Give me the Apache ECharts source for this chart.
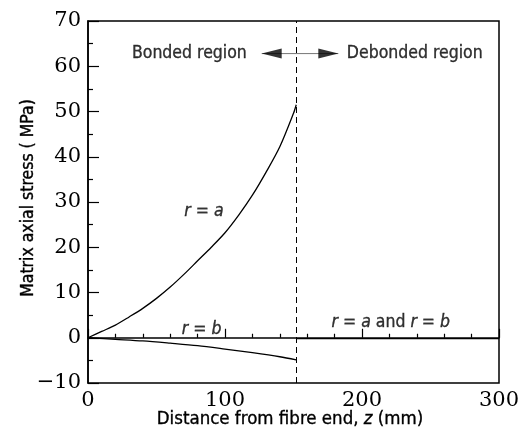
<!DOCTYPE html>
<html><head><meta charset="utf-8">
<script src="https://cdn.jsdelivr.net/npm/echarts@6/dist/echarts.min.js"></script>
<style>html,body{margin:0;padding:0;background:#fff}#c{width:525px;height:436px}</style>
</head><body><div id="c"></div>
<script>
// ---- data ----
const zA = [0,10,20,30,40,50,60,70,80,90,100,110,120,130,140,150,152];
const stressA = [0,1.4,2.8,4.6,6.5,8.7,11.2,14.0,17.0,20.0,23.2,27.1,31.5,36.6,42.2,49.6,51.5];
const zB = [0,20,40,60,80,100,120,140,152];
const stressB = [0,-0.35,-0.7,-1.2,-1.75,-2.5,-3.3,-4.2,-4.9];
const zDebond = [152,300];
const stressDebond = [-0.2,-0.2];
const debondZ = 152;
const xRange = [0,300];
const yRange = [-10,70];
// annotations (data units)
const labelText = ['{i|r} = {i|a}','{i|r} = {i|b}','{i|r} = {i|a} and {i|r} = {i|b}','Bonded region','Debonded region'];
const labelZ = [84.6,82.9,221,74,238.5];
const labelS = [28.0,1.8,3.4,62.8,62.8];
const arrowZ = [126.8,182.7];
const arrowS = [62.8,62.8];
const arrowHeadZ = [134.1,175.4];
const xTitle = 'Distance from fibre end, {i|z} (mm)';
const yTitle = 'Matrix axial stress ( MPa)';

const SANS = '"DejaVu Sans Condensed","DejaVu Sans",sans-serif';
const SERIF = '"DejaVu Serif",serif';
const FS = 17.5;

const chart = echarts.init(document.getElementById('c'));
const pair = (xs,ys)=>xs.map((x,i)=>[x,ys[i]]);
const lineStyle = {color:'#000',width:1.3};
const txt = {color:'#000',textBorderColor:'#000',textBorderWidth:0.35};

chart.setOption({
  animation:false,
  backgroundColor:'#fff',
  grid:{left:88,top:21,width:411,height:362,show:true,borderColor:'#000',borderWidth:1.5,backgroundColor:'transparent'},
  xAxis:{type:'value',min:xRange[0],max:xRange[1],interval:100,
    axisLine:{show:true,lineStyle:{color:'#000',width:1.5}},
    axisTick:{show:true,inside:true,length:9,lineStyle:{color:'#000',width:1.2}},
    minorTick:{show:true,splitNumber:5,length:4,lineStyle:{color:'#000',width:1.2}},
    splitLine:{show:false},
    axisLabel:{color:'#000',fontFamily:SERIF,fontSize:21,margin:7}},
  yAxis:{type:'value',min:yRange[0],max:yRange[1],interval:10,
    axisLine:{show:true,lineStyle:{color:'#000',width:1.5}},
    axisTick:{show:true,inside:true,length:11,lineStyle:{color:'#000',width:1.2}},
    minorTick:{show:true,splitNumber:2,length:5,lineStyle:{color:'#000',width:1.2}},
    splitLine:{show:false},
    axisLabel:{color:'#000',fontFamily:SERIF,fontSize:21,margin:7,
      formatter:v=>String(v).replace('-','\u2212')}},
  graphic:[
    {type:'text',x:290,y:419,style:{text:xTitle,font:'18.5px '+SANS,fill:'#000',stroke:'#000',lineWidth:0.35,align:'center',verticalAlign:'middle',
      rich:{i:{fontStyle:'italic',fontFamily:SANS,fontSize:18.5,fill:'#000',stroke:'#000',lineWidth:0.35}}}},
    {type:'text',x:28,y:198,rotation:Math.PI/2,style:{text:yTitle,font:FS+'px '+SANS,fill:'#000',stroke:'#000',lineWidth:0.35,align:'center',verticalAlign:'middle'}}
  ],
  series:[
    {type:'line',data:pair(zA,stressA),smooth:0.3,showSymbol:false,lineStyle,z:3},
    {type:'line',data:pair(zB,stressB),smooth:0.3,showSymbol:false,lineStyle,z:3},
    {type:'line',data:pair(zDebond,stressDebond),showSymbol:false,lineStyle,z:3,
      markLine:{silent:true,symbol:['none','none'],label:{show:false},
        lineStyle:{color:'#000',type:[6,4],width:1},data:[{xAxis:debondZ}]}},
    {type:'line',data:pair(arrowZ,arrowS),showSymbol:false,lineStyle:{color:'#777',width:1},z:2},
    {type:'scatter',data:[[arrowHeadZ[0],arrowS[0]]],symbol:'triangle',symbolSize:[10,20],symbolRotate:90,itemStyle:{color:'#000'},z:4},
    {type:'scatter',data:[[arrowHeadZ[1],arrowS[1]]],symbol:'triangle',symbolSize:[10,20],symbolRotate:-90,itemStyle:{color:'#000'},z:4},
    {type:'scatter',data:pair(labelZ,labelS).map((p,i)=>({value:p,name:labelText[i]})),
      symbolSize:0,z:5,
      label:Object.assign({show:true,position:'inside',formatter:p=>p.name,fontFamily:SANS,fontSize:FS,
        rich:{i:Object.assign({fontStyle:'italic',fontFamily:SANS,fontSize:FS},txt)}},txt)}
  ]
});
</script></body></html>
